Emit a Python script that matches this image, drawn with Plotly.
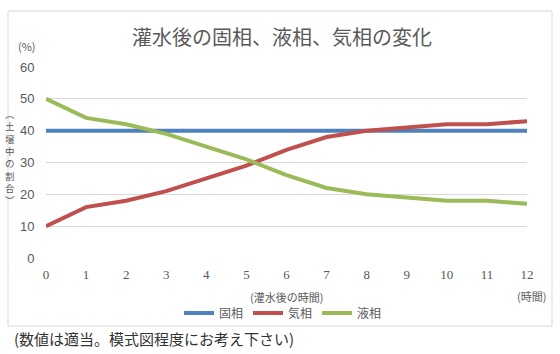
import plotly.graph_objects as go

# ---- data ----
hours = [0, 1, 2, 3, 4, 5, 6, 7, 8, 9, 10, 11, 12]
solid = [40, 40, 40, 40, 40, 40, 40, 40, 40, 40, 40, 40, 40]
gas = [10, 16, 18, 21, 25, 29, 34, 38, 40, 41, 42, 42, 43]
liquid = [50, 44, 42, 39, 35, 31, 26, 22, 20, 19, 18, 18, 17]
series_names = ["固相", "気相", "液相"]
series_colors = ["#4F81BD", "#C0504D", "#9BBB59"]
y_ticks = [0, 10, 20, 30, 40, 50, 60]
title_text = "灌水後の固相、液相、気相の変化"
y_title_chars = ["︵", "土", "壌", "中", "の", "割", "合", "︶"]
x_title = "(灌水後の時間)"
x_unit = "(時間)"
y_unit = "(%)"
footnote = "(数値は適当。模式図程度にお考え下さい)"

W, H = 560, 354
ML, MR, MT, MB = 46, 33, 67, 96
PW = W - ML - MR
PH = H - MT - MB

def px(x):
    return (x - ML) / PW

def py(y):
    return (H - MB - y) / PH

JP = "Noto Sans CJK JP"
GRAY = "#595959"

fig = go.Figure()
for name, vals, col in zip(series_names, [solid, gas, liquid], series_colors):
    fig.add_trace(go.Scatter(x=hours, y=vals, mode="lines", name=name,
                             line=dict(color=col, width=4)))

annotations = [
    dict(text=title_text, x=px(282), y=py(36), xref="paper", yref="paper",
         showarrow=False, font=dict(family=JP, size=20, color=GRAY),
         xanchor="center", yanchor="middle"),
    dict(text=y_unit, x=px(27), y=py(46), xref="paper", yref="paper",
         showarrow=False, font=dict(family=JP, size=11, color=GRAY),
         xanchor="center", yanchor="middle"),
    dict(text=x_title, x=px(286), y=py(297), xref="paper", yref="paper",
         showarrow=False, font=dict(family=JP, size=11, color=GRAY),
         xanchor="center", yanchor="middle"),
    dict(text=x_unit, x=px(531), y=py(296), xref="paper", yref="paper",
         showarrow=False, font=dict(family=JP, size=11, color=GRAY),
         xanchor="center", yanchor="middle"),
    dict(text=footnote, x=px(12), y=py(338), xref="paper", yref="paper",
         showarrow=False, font=dict(family=JP, size=15, color="#333333"),
         xanchor="left", yanchor="middle"),
    dict(text="<br>".join(y_title_chars), x=px(10), y=py(157), xref="paper", yref="paper",
         showarrow=False, font=dict(family=JP, size=9.5, color=GRAY),
         xanchor="center", yanchor="middle"),
]

fig.update_layout(
    width=W, height=H,
    margin=dict(l=ML, r=MR, t=MT, b=MB),
    paper_bgcolor="white", plot_bgcolor="white",
    showlegend=True,
    legend=dict(orientation="h", x=px(283), y=py(313), xanchor="center", yanchor="middle",
                font=dict(family=JP, size=12, color=GRAY), itemwidth=30,
                bgcolor="rgba(0,0,0,0)", tracegroupgap=0),
    annotations=annotations,
    shapes=[dict(type="rect", xref="paper", yref="paper",
                 x0=px(8), x1=px(552), y0=py(326), y1=py(11),
                 line=dict(color="#D9D9D9", width=1), layer="below")],
    xaxis=dict(range=[0, 12], tickmode="array", tickvals=hours,
               showgrid=False, zeroline=False, showline=False,
               ticks="outside", ticklen=4, tickcolor="rgba(0,0,0,0)",
               tickfont=dict(family="Liberation Serif", size=13, color=GRAY)),
    yaxis=dict(range=[0, 60], tickmode="array", tickvals=y_ticks,
               showgrid=True, gridcolor="#D9D9D9", gridwidth=1, zeroline=False,
               showline=False, ticks="outside", ticklen=8, tickcolor="rgba(0,0,0,0)",
               tickfont=dict(family="Liberation Sans", size=13, color=GRAY)),
)

fig.write_html("out.html")
